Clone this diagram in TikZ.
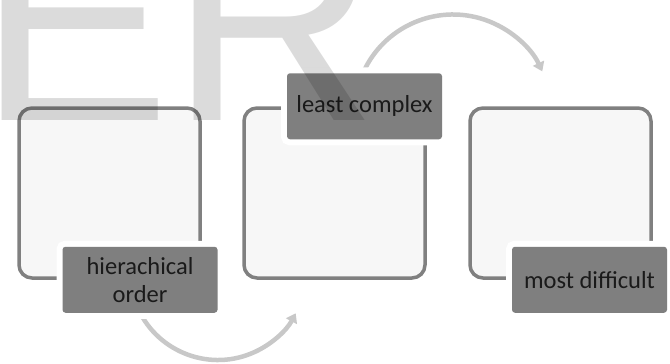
\documentclass[tikz,border=0pt]{standalone}
\usepackage{fontspec}
\setmainfont{Carlito}
\newfontfamily\wmfont{Liberation Sans}
\usetikzlibrary{arrows.meta}
\definecolor{boxline}{HTML}{808080}
\definecolor{boxfill}{HTML}{F7F7F7}
\definecolor{labfill}{HTML}{7F7F7F}
\definecolor{labtext}{HTML}{1A1A1A}
\definecolor{arrowc}{HTML}{C8C8C8}
\begin{document}
\begin{tikzpicture}[x=1pt,y=1pt,
  panel/.style={draw=boxline, line width=3.5pt, fill=boxfill, rounded corners=13pt,
    minimum width=181pt, minimum height=170pt, inner sep=0pt},
  tag/.style={fill=labfill, rounded corners=3pt, text=labtext,
    preaction={draw=white, line width=12pt},
    font=\fontsize{24.5}{28}\selectfont, align=center, inner sep=0pt,
    minimum width=155pt, minimum height=66pt},
  flow/.style={draw=arrowc, line width=4.5pt, -{Triangle[length=9pt,width=12pt]}},
  mark wm/.style={font=\wmfont\fontsize{288}{288}\selectfont, text=black,
    text opacity=0.14, inner sep=0pt, anchor=base west}]
\useasboundingbox (0,-364) rectangle (670,0);
\clip (0,-364) rectangle (670,0);
% arrows
\coordinate (a1s) at ({218+88*cos(205)},{-272+88*sin(205)});
\coordinate (a2s) at ({453+98.5*cos(158)},{-113+98.5*sin(158)});
\draw[flow] (a1s) arc[start angle=205, end angle=332, radius=88];
\draw[flow] (a2s) arc[start angle=158, end angle=25, radius=98.5];
% boxes
\node[panel] (b1) at (109.5,-193) {};
\node[panel] (b2) at (334.5,-193) {};
\node[panel] (b3) at (560.5,-193) {};
% labels
\node[tag] (t1) at ([xshift=30.5pt]b1.south) {hierachical\\order};
\node[tag] (t2) at ([xshift=30pt]b2.north) {least complex};
\node[tag] (t3) at ([xshift=29pt]b3.south) {most difficult};
% watermark
\node[mark wm] (wm) at (-22,-120) {ER};
\end{tikzpicture}
\end{document}
